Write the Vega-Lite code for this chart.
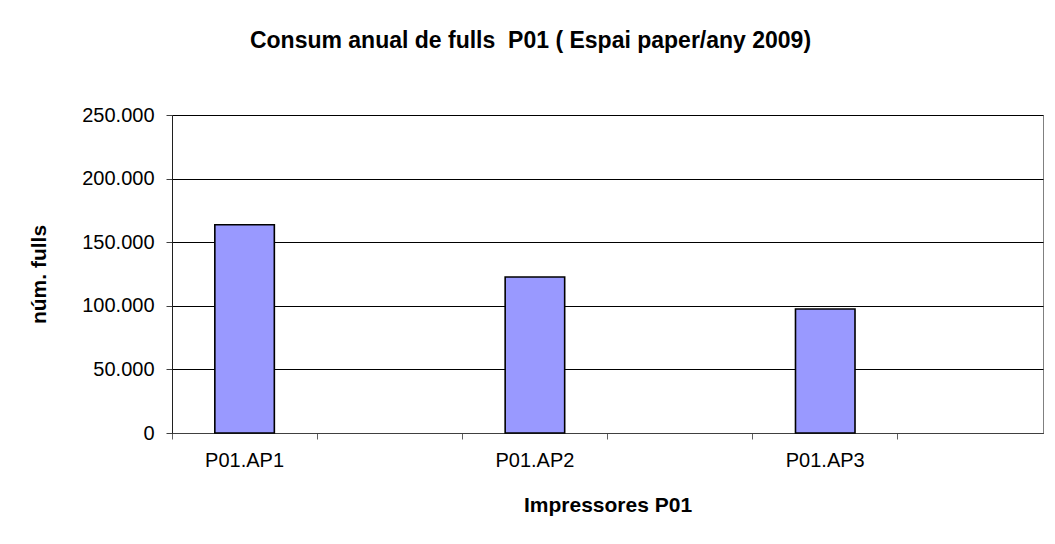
{
  "$schema": "https://vega.github.io/schema/vega-lite/v6.json",
  "width": 871,
  "height": 318,
  "autosize": "none",
  "padding": {"left": 172, "top": 115, "right": 12, "bottom": 111},
  "background": "white",
  "title": {
    "text": "Consum anual de fulls \u00a0P01 ( Espai paper/any 2009)",
    "font": "Liberation Sans",
    "fontSize": 23,
    "fontWeight": "bold",
    "color": "#000000",
    "anchor": "middle",
    "frame": "group",
    "offset": 52,
    "dx": -77
  },
  "data": {
    "values": [
      {"impressora": "P01.AP1", "fulls": 163700},
      {"impressora": "P01.AP2", "fulls": 122600},
      {"impressora": "P01.AP3", "fulls": 97500}
    ]
  },
  "mark": {
    "type": "bar",
    "width": {"band": 0.41},
    "fill": "#9999FF",
    "stroke": "#000000",
    "strokeWidth": 1.6
  },
  "encoding": {
    "x": {
      "field": "impressora",
      "type": "nominal",
      "sort": null,
      "scale": {
        "domain": ["P01.AP1", "_a", "P01.AP2", "_b", "P01.AP3", "_c"],
        "paddingInner": 0,
        "paddingOuter": 0
      },
      "axis": {
        "title": "Impressores P01",
        "titleFont": "Liberation Sans",
        "titleFontSize": 21,
        "titleFontWeight": "bold",
        "titleColor": "#000000",
        "titlePadding": 24,
        "labelExpr": "slice(datum.value, 0, 1) == '_' ? '' : datum.value",
        "labelAngle": 0,
        "labelFont": "Liberation Sans",
        "labelFontSize": 20,
        "labelColor": "#000000",
        "labelPadding": 11,
        "bandPosition": 0,
        "tickSize": 6,
        "tickColor": "#606060",
        "domainColor": "#404040",
        "grid": false
      }
    },
    "y": {
      "field": "fulls",
      "type": "quantitative",
      "scale": {"domain": [0, 250000], "nice": false},
      "axis": {
        "title": "núm. fulls",
        "titleFont": "Liberation Sans",
        "titleFontSize": 21,
        "titleFontWeight": "bold",
        "titleColor": "#000000",
        "titlePadding": 32,
        "values": [0, 50000, 100000, 150000, 200000, 250000],
        "labelExpr": "replace(format(datum.value, ','), ',', '.')",
        "labelFont": "Liberation Sans",
        "labelFontSize": 20,
        "labelColor": "#000000",
        "labelPadding": 12,
        "tickSize": 6,
        "tickColor": "#404040",
        "domainColor": "#202020",
        "grid": true,
        "gridColor": "#000000"
      }
    }
  },
  "config": {
    "view": {"stroke": "#808080", "strokeWidth": 1}
  }
}
